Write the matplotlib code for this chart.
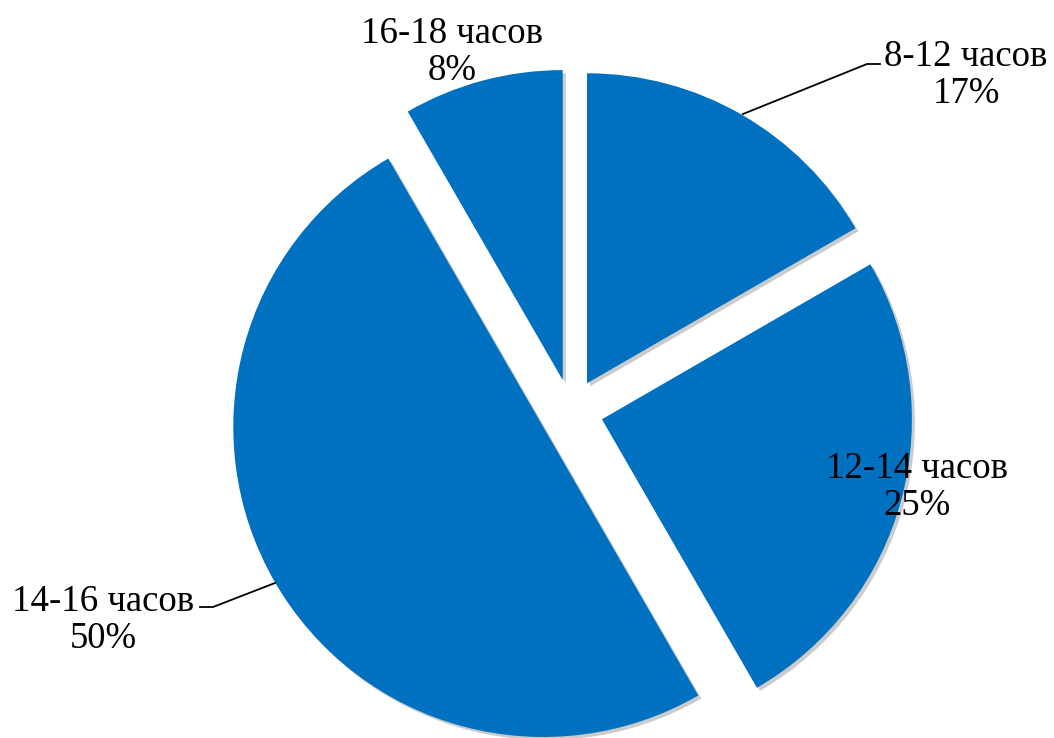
import matplotlib.pyplot as plt

# данные
labels = ['8-12 часов', '12-14 часов', '14-16 часов', '16-18 часов']
values = [2, 3, 6, 1]
percents = ['17%', '25%', '50%', '8%']

plt.rcParams['font.family'] = ['Liberation Serif', 'DejaVu Serif']

W, H = 1054, 738
fig = plt.figure(figsize=(W / 100, H / 100), dpi=100)
ax = fig.add_axes([0, 0, 1, 1])

# центр и радиус в пикселях (ось y вверх)
cx, cy, R = 571, H - 411, 310

# explode в pie задаётся в единицах данных (здесь пиксели)
ax.pie(values, startangle=90, counterclock=False, colors=['#0070C0'] * 4,
       explode=[32] * 4, center=(cx, cy), radius=R, frame=True,
       wedgeprops=dict(linewidth=0),
       shadow=dict(ox=2.2, oy=-2.2, facecolor='0.55', edgecolor='none', alpha=0.45))
ax.set_xlim(0, W)
ax.set_ylim(0, H)
ax.set_aspect('equal')
ax.axis('off')

# подписи
label_pos = [(966, 75), (917, 487), (103, 620), (452, 52)]
for lab, pct, (x, y) in zip(labels, percents, label_pos):
    ax.text(x, H - y, f'{lab}\n{pct}', ha='center', va='center',
            fontsize=26.5, linespacing=1.1, color='black')

# линии-выноски
ax.plot([743, 867, 880], [H - 114, H - 64, H - 64], color='black', lw=1.3)
ax.plot([275, 213, 200], [H - 583, H - 607, H - 607], color='black', lw=1.3)

fig.savefig('out.png', dpi=100)
